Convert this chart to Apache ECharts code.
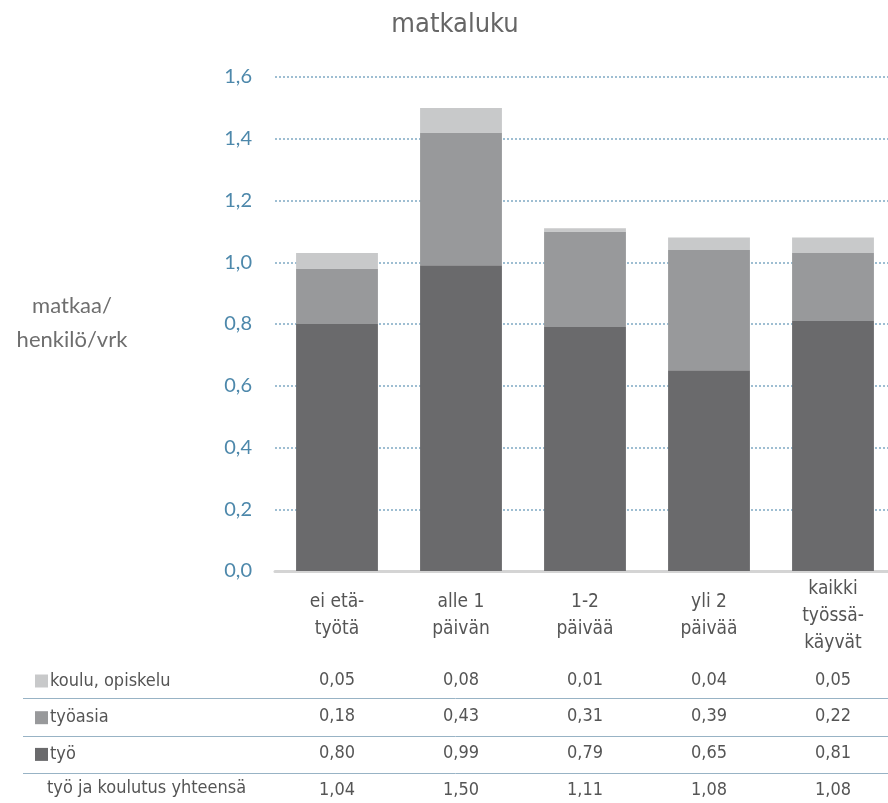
<!DOCTYPE html>
<html>
<head>
<meta charset="utf-8">
<script src="https://cdn.jsdelivr.net/npm/echarts@6/dist/echarts.min.js"></script>
<style>
html,body{margin:0;padding:0;background:#fff;}
#chart{width:888px;height:803px;}
</style>
</head>
<body>
<div id="chart"></div>
<script>
var categories = ['ei etä-\ntyötä', 'alle 1\npäivän', '1-2\npäivää', 'yli 2\npäivää', 'kaikki\ntyössä-\nkäyvät'];
var seriesNames = ['työ', 'työasia', 'koulu, opiskelu'];
var tyo = [0.80, 0.99, 0.79, 0.65, 0.81];
var tyoasia = [0.18, 0.43, 0.31, 0.39, 0.22];
var koulu = [0.05, 0.08, 0.01, 0.04, 0.05];
var totals = [1.04, 1.50, 1.11, 1.08, 1.08];
var totalLabel = 'työ ja koulutus yhteensä';
var yAxisTitle = 'matkaa/\nhenkilö/vrk';
var colors = ['#6a6a6c', '#98999b', '#c8c9ca'];

var narrow = '"Liberation Sans Narrow", "DejaVu Sans Condensed", "Roboto Condensed", sans-serif';
var fmt2 = function (v) { return v.toFixed(2).replace('.', ','); };

var chart = echarts.init(document.getElementById('chart'));

function tableAxis(values, margin) {
  return {
    type: 'category',
    gridIndex: 0,
    position: 'bottom',
    offset: 0,
    data: values.map(fmt2),
    axisLine: {show: false},
    axisTick: {show: false},
    splitLine: {show: false},
    axisLabel: {
      margin: margin,
      verticalAlign: 'middle',
      fontFamily: narrow,
      fontSize: 18,
      color: '#555555',
      interval: 0
    }
  };
}

var sepStyle = {stroke: '#98b3c5', lineWidth: 1};

var option = {
  animation: false,
  title: {
    text: 'matkaluku',
    left: 450,
    top: 6,
    textAlign: 'center',
    textStyle: {fontFamily: narrow, fontSize: 27, fontWeight: 'normal', color: '#666666'}
  },
  legend: {
    data: [seriesNames[2], seriesNames[1], seriesNames[0]],
    orient: 'vertical',
    left: 30,
    top: 666,
    icon: 'rect',
    itemWidth: 13,
    itemHeight: 13,
    itemGap: 16.7,
    selectedMode: false,
    textStyle: {fontFamily: narrow, fontSize: 18, lineHeight: 20, color: '#555555', padding: [0, 0, 0, -3]}
  },
  grid: {left: 275, width: 620, top: 77, bottom: 232, containLabel: false, outerBoundsMode: 'none'},
  xAxis: [
    {
      type: 'category',
      data: categories,
      position: 'bottom',
      axisLine: {show: true, lineStyle: {color: '#d4d4d4', width: 3}},
      axisTick: {show: false},
      axisLabel: {
        interval: 0,
        margin: 45,
        verticalAlign: 'middle',
        lineHeight: 27,
        fontFamily: narrow,
        fontSize: 19,
        color: '#555555'
      }
    },
    tableAxis(koulu, 109),
    tableAxis(tyoasia, 145),
    tableAxis(tyo, 182),
    tableAxis(totals, 219)
  ],
  yAxis: {
    type: 'value',
    min: 0,
    max: 1.6,
    interval: 0.2,
    axisLine: {show: false},
    axisTick: {show: false},
    axisLabel: {
      margin: 23,
      fontFamily: 'Lato, "Open Sans", sans-serif',
      fontSize: 20,
      color: '#4d88ab',
      formatter: function (v) { return v.toFixed(1).replace('.', ','); }
    },
    splitLine: {show: true, lineStyle: {color: '#7fa9c4', width: 1.5, type: [2, 2]}}
  },
  graphic: [
    {type: 'line', silent: true, shape: {x1: 23, y1: 698.5, x2: 888, y2: 698.5}, style: sepStyle},
    {type: 'line', silent: true, shape: {x1: 23, y1: 736.5, x2: 888, y2: 736.5}, style: sepStyle},
    {type: 'line', silent: true, shape: {x1: 23, y1: 773.5, x2: 888, y2: 773.5}, style: sepStyle},
    {type: 'text', left: 47, top: 779, style: {text: totalLabel, font: '18px ' + narrow, fill: '#555555'}},
    {type: 'text', x: 72, y: 323, style: {text: yAxisTitle, font: '22px Lato, "Open Sans", sans-serif', lineHeight: 34, fill: '#6e6e6e', align: 'center', verticalAlign: 'middle'}}
  ],
  series: [
    {name: seriesNames[0], type: 'bar', stack: 'a', data: tyo, barWidth: '66%', itemStyle: {color: colors[0]}},
    {name: seriesNames[1], type: 'bar', stack: 'a', data: tyoasia, itemStyle: {color: colors[1]}},
    {name: seriesNames[2], type: 'bar', stack: 'a', data: koulu, itemStyle: {color: colors[2]}}
  ]
};
chart.setOption(option);
</script>
</body>
</html>
